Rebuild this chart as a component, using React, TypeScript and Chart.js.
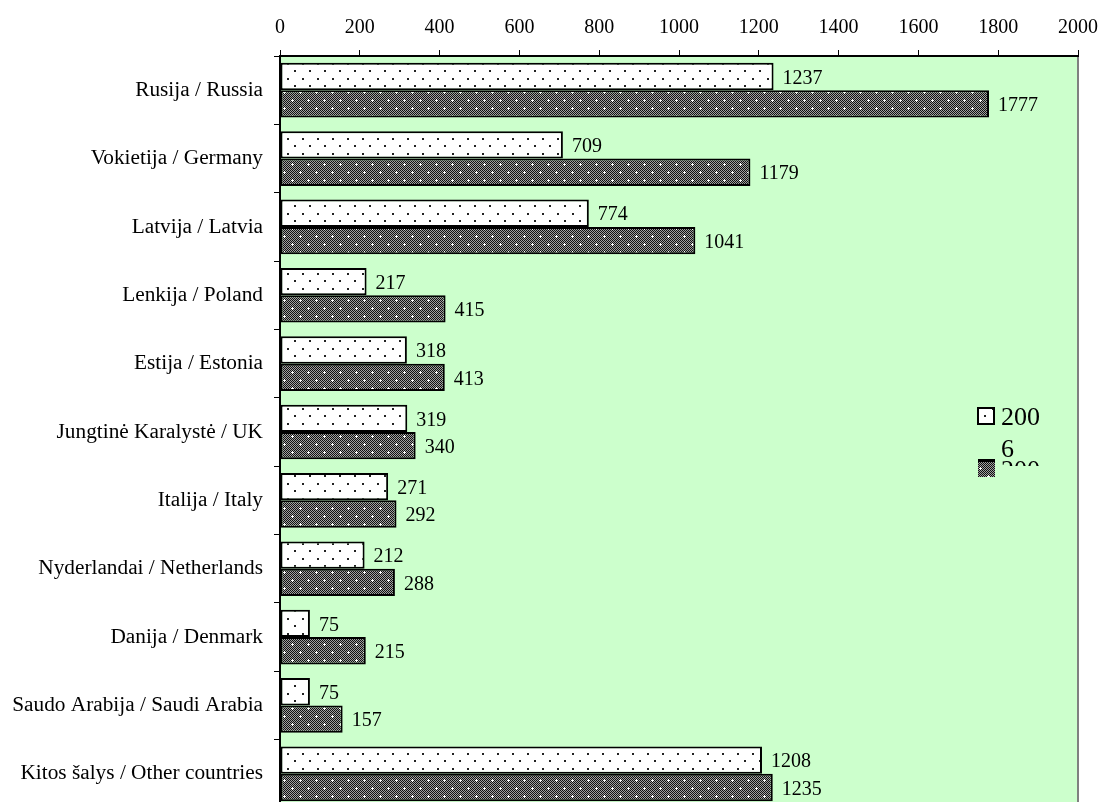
import React, { useEffect, useRef } from 'react';
import { Chart, registerables } from 'chart.js';
Chart.register(...registerables);

const categories = [
  'Rusija / Russia',
  'Vokietija / Germany',
  'Latvija / Latvia',
  'Lenkija / Poland',
  'Estija / Estonia',
  'Jungtinė Karalystė / UK',
  'Italija / Italy',
  'Nyderlandai / Netherlands',
  'Danija / Denmark',
  'Saudo Arabija / Saudi Arabia',
  'Kitos šalys / Other countries',
];
const values2006 = [1237, 709, 774, 217, 318, 319, 271, 212, 75, 75, 1208];
const values2007 = [1777, 1179, 1041, 415, 413, 340, 292, 288, 215, 157, 1235];
const xTicks = [0, 200, 400, 600, 800, 1000, 1200, 1400, 1600, 1800, 2000];
const legendLabels = ['2006', '2007'];

const SERIF = '"Liberation Serif", "Times New Roman", serif';

function makeDotPattern(): CanvasPattern | string {
  const c = document.createElement('canvas');
  c.width = 15; c.height = 15;
  const g = c.getContext('2d');
  if (!g) return '#fff';
  g.fillStyle = '#ffffff';
  g.fillRect(0, 0, 15, 15);
  g.fillStyle = '#222';
  g.fillRect(2, 3, 2, 2);
  g.fillRect(9, 10, 2, 2);
  return g.createPattern(c, 'repeat') || '#fff';
}

function makeDarkPattern(): CanvasPattern | string {
  const c = document.createElement('canvas');
  c.width = 16; c.height = 16;
  const g = c.getContext('2d');
  if (!g) return '#777';
  for (let y = 0; y < 16; y++) {
    for (let x = 0; x < 16; x++) {
      g.fillStyle = (x + y) % 2 === 0 ? '#111111' : '#a0a0a0';
      g.fillRect(x, y, 1, 1);
    }
  }
  g.fillStyle = '#ffffff';
  const plus = (px: number, py: number) => {
    g.fillRect(px - 1, py, 3, 1);
    g.fillRect(px, py - 1, 1, 3);
  };
  plus(4, 4);
  plus(12, 12);
  return g.createPattern(c, 'repeat') || '#777';
}

export default function App() {
  const ref = useRef<HTMLCanvasElement | null>(null);

  useEffect(() => {
    document.documentElement.style.overflow = 'hidden';
    const canvas = ref.current;
    if (!canvas) return;
    const dot = makeDotPattern();
    const dark = makeDarkPattern();

    const bgPlugin = {
      id: 'bg',
      beforeDraw(chart: any) {
        const { ctx, chartArea: a } = chart;
        ctx.save();
        ctx.fillStyle = '#CCFFCC';
        ctx.fillRect(a.left, a.top, a.right - a.left, a.bottom - a.top);
        ctx.strokeStyle = '#808080';
        ctx.lineWidth = 2;
        ctx.beginPath();
        ctx.moveTo(a.right, a.top);
        ctx.lineTo(a.right, a.bottom);
        ctx.stroke();
        ctx.restore();
      },
    };

    const labelPlugin = {
      id: 'vals',
      afterDatasetsDraw(chart: any) {
        const { ctx } = chart;
        ctx.save();
        ctx.font = `20px ${SERIF}`;
        ctx.fillStyle = '#000';
        ctx.textBaseline = 'middle';
        ctx.textAlign = 'left';
        chart.data.datasets.forEach((ds: any, di: number) => {
          const meta = chart.getDatasetMeta(di);
          meta.data.forEach((bar: any, i: number) => {
            ctx.fillText(String(ds.data[i]), bar.x + 9, bar.y + 2);
          });
        });
        ctx.restore();
      },
    };

    const legendPlugin = {
      id: 'customLegend',
      afterDraw(chart: any) {
        const { ctx } = chart;
        ctx.save();
        ctx.fillStyle = dot;
        ctx.fillRect(978, 408, 16, 16);
        ctx.strokeStyle = '#000';
        ctx.lineWidth = 2;
        ctx.strokeRect(978, 408, 16, 16);
        ctx.fillStyle = '#000';
        ctx.font = `26px ${SERIF}`;
        ctx.textBaseline = 'alphabetic';
        ctx.textAlign = 'left';
        ctx.fillText(legendLabels[0].slice(0, 3), 1001, 425);
        ctx.fillText(legendLabels[0].slice(3), 1001, 457);
        ctx.fillStyle = dark;
        ctx.fillRect(978, 460, 17, 17);
        ctx.fillStyle = '#000';
        ctx.fillRect(978, 459, 17, 3);
        ctx.beginPath();
        ctx.rect(995, 440, 60, 26);
        ctx.clip();
        ctx.fillText(legendLabels[1].slice(0, 3), 1001, 478);
        ctx.restore();
      },
    };

    const chart = new Chart(canvas, {
      type: 'bar',
      data: {
        labels: categories,
        datasets: [
          {
            label: legendLabels[0],
            data: values2006,
            backgroundColor: dot as any,
            borderColor: '#000',
            borderWidth: 2,
            borderSkipped: false,
            categoryPercentage: 0.8,
            barPercentage: 1.0,
          },
          {
            label: legendLabels[1],
            data: values2007,
            backgroundColor: dark as any,
            borderColor: '#000',
            borderWidth: 2,
            borderSkipped: false,
            categoryPercentage: 0.8,
            barPercentage: 1.0,
          },
        ],
      },
      options: {
        indexAxis: 'y',
        animation: false,
        responsive: false,
        maintainAspectRatio: false,
        layout: { padding: { left: 0, right: 23, top: 0, bottom: 1 } },
        plugins: {
          legend: { display: false },
          tooltip: { enabled: false },
        },
        scales: {
          x: {
            position: 'top',
            min: 0,
            max: 2000,
            afterBuildTicks(axis: any) {
              axis.ticks = xTicks.map((v) => ({ value: v }));
            },
            afterFit(axis: any) {
              axis.height = 56;
              axis.paddingLeft = 0;
              axis.paddingRight = 0;
            },
            ticks: {
              color: '#000',
              font: { family: SERIF, size: 20 },
              padding: 10,
              maxRotation: 0,
              callback: (v: any) => String(v),
            },
            grid: {
              drawOnChartArea: false,
              drawTicks: true,
              tickLength: 6,
              color: '#000',
            },
            border: { color: '#000', width: 2 },
          },
          y: {
            afterFit(axis: any) {
              axis.width = 280;
              axis.paddingTop = 0;
              axis.paddingBottom = 0;
            },
            ticks: {
              color: '#000',
              font: { family: SERIF, size: 21.3 },
              padding: 11,
              autoSkip: false,
            },
            grid: {
              offset: true,
              drawOnChartArea: false,
              drawTicks: true,
              tickLength: 6,
              color: '#000',
            },
            border: { color: '#000', width: 2 },
          },
        },
      },
      plugins: [bgPlugin, labelPlugin, legendPlugin],
    } as any);

    return () => chart.destroy();
  }, []);

  return (
    <div style={{ position: 'fixed', left: 0, top: 0, width: 1101, height: 809, background: '#fff' }}>
      <canvas ref={ref} width={1101} height={809} style={{ width: 1101, height: 809, display: 'block' }} />
    </div>
  );
}
